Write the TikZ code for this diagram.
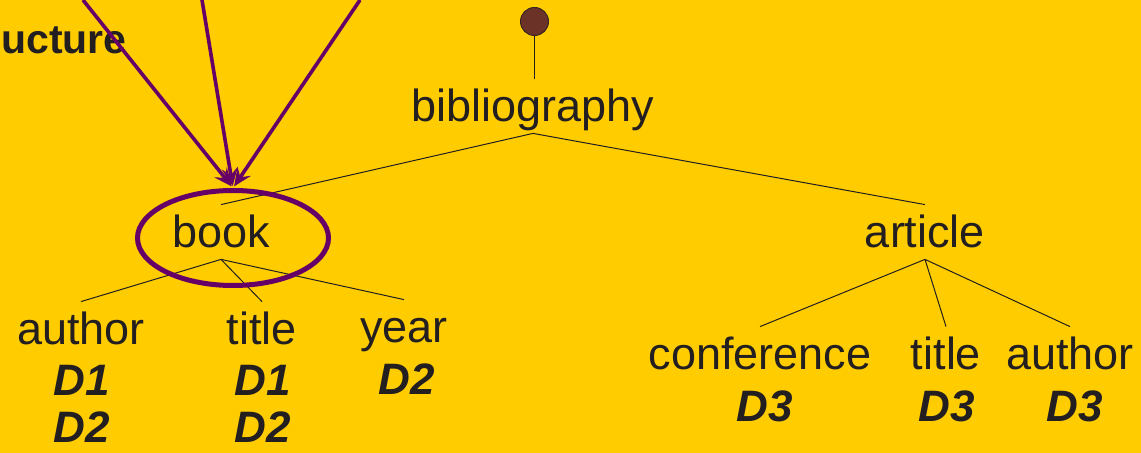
\documentclass[tikz,border=0pt]{standalone}
\usepackage{fontspec}
\setmainfont{Liberation Sans}
\usetikzlibrary{arrows.meta,shapes.geometric}
\definecolor{slidebg}{HTML}{FFCC00}
\definecolor{ink}{HTML}{231F20}
\definecolor{plum}{HTML}{660066}
\definecolor{rootbrown}{HTML}{6B3328}
\begin{document}
\begin{tikzpicture}[x=0.5pt,y=-0.5pt,
    tag/.style={anchor=base,text=ink,font=\fontsize{22.5}{27}\selectfont,
      inner xsep=0pt,inner ysep=5.5pt,text height=16pt,text depth=0pt},
    doc/.style={anchor=base,text=ink,inner sep=0pt,
      font=\fontsize{22}{26}\selectfont\bfseries\itshape},
    edge/.style={ink,line width=0.5pt},
    pointer/.style={plum,line width=1.8pt,
      -{Stealth[length=9pt,width=8pt,inset=3.5pt]},shorten >=1pt}]
  \fill[slidebg] (0,0) rectangle (1141,453);
  \useasboundingbox (0,0) rectangle (1141,453);
  \node[anchor=base west,inner sep=0pt,text=ink,
    font=\fontsize{20.5}{25}\selectfont\bfseries] (heading) at (1,54) {ucture};

  % the tree
  \node[circle,fill=rootbrown,draw=ink!70!rootbrown,line width=0.5pt,
    minimum size=14pt,inner sep=0pt] (root) at (534.5,21.5) {};
  \node[tag] (bib) at (533,122) {bibliography};
  \node[tag] (book) at (221,248) {book};
  \node[tag] (article) at (925,248) {article};
  \node[tag] (bauthor) at (81,345) {author};
  \node[tag] (btitle) at (262,345) {title};
  \node[tag] (byear) at (404,343) {year};
  \node[tag] (conf) at (760,370) {conference};
  \node[tag] (atitle) at (946,370) {title};
  \node[tag] (aauthor) at (1070,370) {author};

  \draw[edge] (root) -- (root |- bib.north);
  \draw[edge] (bib.south) -- (book.north);
  \draw[edge] (bib.south) -- (article.north);
  \draw[edge] (book.south) -- (bauthor.north);
  \draw[edge] (book.south) -- (btitle.north);
  \draw[edge] (book.south) -- (byear.north);
  \draw[edge] (article.south) -- (conf.north);
  \draw[edge] (article.south) -- (atitle.north);
  \draw[edge] (article.south) -- (aauthor.north);

  % documents under each leaf
  \node[doc] (ba1) at (82,396) {D1};
  \node[doc] (ba2) at (82,443) {D2};
  \node[doc] (bt1) at (263,396) {D1};
  \node[doc] (bt2) at (263,443) {D2};
  \node[doc] (by2) at (407,395) {D2};
  \node[doc] (ac3) at (765,422) {D3};
  \node[doc] (at3) at (947,422) {D3};
  \node[doc] (aa3) at (1075,422) {D3};

  % ring round book and the three pointers
  \node[ellipse,draw=plum,line width=2.5pt,minimum width=95.5pt,
    minimum height=47.5pt,inner sep=0pt] (ring) at (233,238) {};
  \coordinate (p1) at (83,0);
  \coordinate (p2) at (202,0);
  \coordinate (p3) at (360,0);
  \draw[pointer] (p1) -- (ring.north);
  \draw[pointer] (p2) -- (ring.north);
  \draw[pointer] (p3) -- (ring.north);
\end{tikzpicture}
\end{document}
